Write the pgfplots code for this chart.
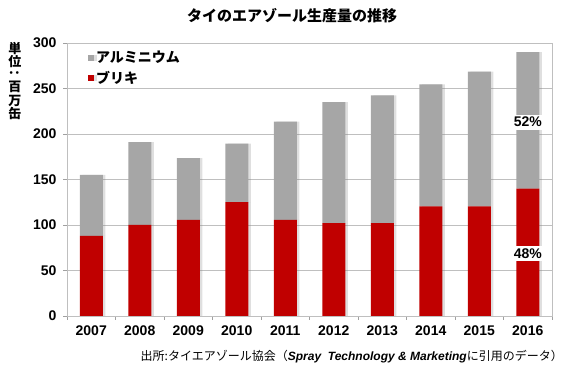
\documentclass[border=0pt]{standalone}
\usepackage{pgfplots}
\pgfplotsset{compat=1.18}
\usepackage{fontspec}
\setmainfont{Liberation Sans}
\newfontfamily\jp{Noto Sans CJK JP}
\usetikzlibrary{shadows}
\definecolor{tinred}{HTML}{C00000}
\definecolor{alugray}{HTML}{A6A6A6}
\definecolor{gridgray}{HTML}{BFBFBF}
\definecolor{axgray}{HTML}{A0A0A0}

\pgfplotstableread{
x red alu
0 88 67
1 100 91
2 105.5 68
3 125 64.5
4 105.5 108
5 102 133
6 102 140.5
7 120.5 134
8 120.5 148
9 140 150
}\datatable

\begin{document}
\begin{tikzpicture}
\path[use as bounding box] (0pt,0pt) rectangle (580pt,379pt);
\begin{axis}[
  at={(67pt,63pt)}, anchor=south west,
  scale only axis, width=485pt, height=273pt,
  ybar stacked, bar width=23pt,
  xmin=-0.5, xmax=9.5, ymin=0, ymax=300,
  xtick={0,...,9},
  xticklabels={2007,2008,2009,2010,2011,2012,2013,2014,2015,2016},
  minor xtick={-0.5,0.5,...,9.5},
  ytick={0,50,...,300},
  ymajorgrids,
  major grid style={gridgray, line width=0.7pt},
  tick align=outside,
  major tick length=4pt, minor tick length=4pt,
  major x tick style={draw=none},
  tick style={axgray, line width=0.6pt},
  axis line style={gridgray, line width=0.8pt},
  xtick pos=bottom, ytick pos=left,
  ticklabel style={font=\bfseries\fontsize{14}{14}\selectfont},
  /pgf/number format/assume math mode=true,
  xticklabel style={yshift=-2pt},
  yticklabel style={xshift=-3pt},
  legend style={at={(0.042,0.985)}, anchor=north west, draw=none, fill=none,
    font=\jp\bfseries\fontsize{14}{14}\selectfont, row sep=3pt,
    inner xsep=0pt},
  legend cell align=left,
  reverse legend,
]
\addplot[fill=tinred, draw=none,
  drop shadow={shadow xshift=2.5pt, shadow yshift=0pt, opacity=0.25},
  legend image code/.code={\fill[tinred] (0pt,-3.2pt) rectangle (6.5pt,3.3pt);}]
  table[x=x, y=red] {\datatable};
\addlegendentry{ブリキ}
\addplot[fill=alugray, draw=none,
  drop shadow={shadow xshift=2.5pt, shadow yshift=0pt, opacity=0.25},
  legend image code/.code={\fill[alugray] (0pt,-3.2pt) rectangle (6.5pt,3.3pt);}]
  table[x=x, y=alu] {\datatable};
\addlegendentry{アルミニウム}
\coordinate (p52) at (axis cs:9,213);
\coordinate (p48) at (axis cs:9,69);
\end{axis}
\node[fill=white, inner xsep=2pt, inner ysep=2.5pt, font=\bfseries\fontsize{14}{14}\selectfont] at (p52) {52\%};
\node[fill=white, inner xsep=2pt, inner ysep=2.5pt, font=\bfseries\fontsize{14}{14}\selectfont] at (p48) {48\%};
\node[font=\jp\bfseries\fontsize{15}{15}\selectfont] at (292pt,363pt) {タイのエアゾール生産量の推移};
\node[anchor=north, align=center, inner sep=0pt, font=\jp\bfseries\fontsize{13}{13.5}\selectfont] at (15pt,337pt)
  {単\\位\\[-3pt]\rotatebox{90}{：}\\[-1pt]百\\万\\缶};
\node[anchor=east, inner sep=0pt, font=\fontsize{12}{12}\selectfont] at (563pt,22pt)
  {{\jp 出所:タイエアゾール協会（}\textbf{\textit{Spray\ \ Technology \& Marketing}}{\jp に引用のデータ）}};
\end{tikzpicture}
\end{document}
